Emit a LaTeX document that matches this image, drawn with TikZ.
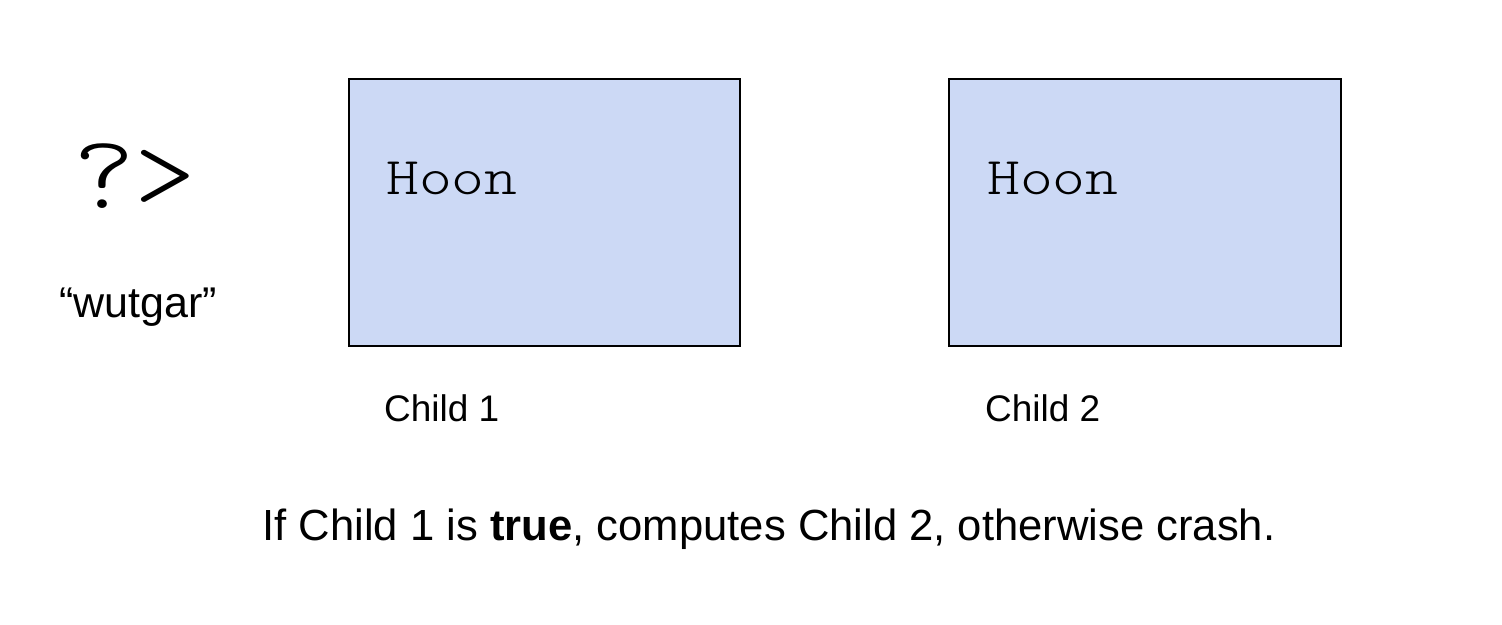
\documentclass[tikz,border=0pt]{standalone}
\usepackage{fontspec}
\setmainfont{Liberation Sans}
\newfontfamily\monofont{lmmonolt10-regular.otf}[FakeStretch=1.18]
\newfontfamily\runefont{lmmonolt10-regular.otf}[FakeStretch=1.12]
\definecolor{boxblue}{HTML}{CCD9F5}
\begin{document}
\begin{tikzpicture}[x=1pt,y=-1pt,
  childbox/.style={draw=black,line width=1.5pt,fill=boxblue},
  hoontext/.style={anchor=base west,inner sep=0pt,font=\monofont\fontsize{53}{60}\selectfont},
  labeltext/.style={anchor=base west,inner sep=0pt,font=\fontsize{37}{42}\selectfont}]
\useasboundingbox (0,0) rectangle (1502,624);
\fill[white] (0,0) rectangle (1502,624);
\draw[childbox] (349,79) rectangle (740,346) node[pos=0,coordinate] (b1) {};
\draw[childbox] (949,79) rectangle (1341,346) node[pos=0,coordinate] (b2) {};
\node[hoontext] (h1) at (386,194) {Hoon};
\node[hoontext] (h2) at (987,194) {Hoon};
\node[anchor=base west,inner sep=0pt,font=\runefont\fontsize{105}{115}\selectfont] (rune) at (73,208) {?>};
\node[anchor=base west,inner sep=0pt,font=\fontsize{43}{48}\selectfont] (name) at (59,317) {“wutgar”};
\node[labeltext] (c1) at (384,421) {Child 1};
\node[labeltext] (c2) at (985,421) {Child 2};
\node[anchor=base,inner sep=0pt,font=\fontsize{43.6}{50}\selectfont] (desc) at (769,540) {If Child 1 is \textbf{true}, computes Child 2, otherwise crash.};
\end{tikzpicture}
\end{document}
